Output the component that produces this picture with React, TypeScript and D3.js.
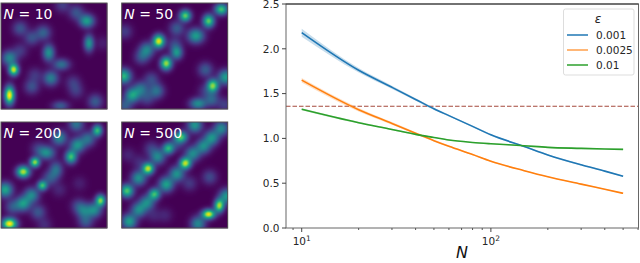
import React, { useMemo } from 'react';
import * as d3 from 'd3';

const sizes = [10, 20, 30, 40, 50, 60, 80, 100, 150, 200, 300, 400, 500];
const blueMean = [2.18, 1.76, 1.57, 1.435, 1.33, 1.254, 1.134, 1.04, 0.91, 0.815, 0.705, 0.635, 0.577];
const orangeMean = [1.65, 1.32, 1.167, 1.058, 0.975, 0.912, 0.82, 0.745, 0.64, 0.572, 0.49, 0.432, 0.387];
const greenMean = [1.325, 1.175, 1.1, 1.045, 1.01, 0.982, 0.955, 0.94, 0.918, 0.9, 0.889, 0.882, 0.878];
const blueSpread = [0.045, 0.025, 0.018, 0.014, 0.012, 0.01, 0.01, 0.01, 0.008, 0.008, 0.008, 0.008, 0.008];
const orangeSpread = [0.025, 0.02, 0.015, 0.012, 0.01, 0.01, 0.008, 0.008, 0.006, 0.006, 0.006, 0.006, 0.006];
const greenSpread = [0.012, 0.01, 0.008, 0.008, 0.006, 0.006, 0.006, 0.006, 0.006, 0.006, 0.006, 0.006, 0.006];
const threshold = 1.358;

const yTicks = [0, 0.5, 1, 1.5, 2, 2.5];
const legendLabels = ['0.001', '0.0025', '0.01'];
const lineColors = ['#1f77b4', '#ff7f0e', '#2ca02c'];

// peaks: [x%, y%, height, sx, sy]
type Peak = number[];
const peaks10: Peak[] = [
  [81, 17, 0.55, 4.5, 4], [71, 9, 0.25], [58, 2, 0.18], [83, 38, 0.52, 3, 5], [96, 38, 0.08],
  [18, 24, 0.25], [29, 33, 0.24], [40, 28, 0.3], [45, 47, 0.5, 3.5, 5], [18, 45, 0.16],
  [8, 52, 0.45], [12, 63, 0.9, 3, 3.5], [8, 87, 1, 3, 5.5], [57, 58, 0.36, 5, 3.5],
  [47, 71, 0.42], [32, 68, 0.15], [29, 79, 0.24], [68, 75, 0.16], [71, 83, 0.16],
  [89, 93, 0.28], [56, 97, 0.28, 5, 3],
];
const peaks50: Peak[] = [
  [60, 12, 0.75, 3.5, 3.5], [82, 17, 0.75, 3.5, 4], [94, 6, 0.7, 4, 3.5], [70, 31, 0.55, 5, 4.5],
  [52, 24, 0.28], [35, 36, 0.95, 3.5, 4], [24, 44, 0.42], [19, 51, 0.26], [52, 47, 0.5, 3.5, 4],
  [50, 39, 0.2], [42, 57, 0.85, 3.5, 4], [3, 27, 0.18], [79, 63, 0.28], [86, 78, 0.8, 3.5, 4],
  [98, 70, 0.55], [2, 69, 0.65], [28, 72, 0.22], [18, 81, 0.36], [10, 87, 0.55], [33, 83, 0.36],
  [24, 90, 0.2], [72, 95, 0.48, 5, 3.5], [85, 91, 0.3], [3, 97, 0.28], [79, 83, 0.15], [97, 96, 0.18],
];
const peaks200: Peak[] = [
  [8, 96, 1, 4.5, 3.5], [4, 64, 0.58], [21, 47, 0.88, 4, 3.5], [32, 38, 0.82, 3, 3], [43, 29, 0.48, 5, 4],
  [55, 15, 0.45], [66, 33, 0.68, 3.5, 4], [72, 22, 0.5], [82, 16, 0.36], [91, 8, 0.66, 3, 3.5],
  [71, 2, 0.38], [52, 45, 0.36, 4, 5], [39, 60, 0.66, 3, 3], [29, 69, 0.45], [21, 77, 0.52], [11, 80, 0.26],
  [46, 53, 0.26], [35, 85, 0.26], [94, 74, 0.78, 3, 3.5], [88, 83, 0.46], [78, 84, 0.34], [73, 79, 0.2],
  [55, 64, 0.1], [74, 58, 0.08], [80, 94, 0.26], [41, 97, 0.12], [35, 25, 0.16],
];
const peaks500: Peak[] = [
  [5, 65, 0.72, 4, 4], [16, 53, 0.5], [25, 44, 0.88, 3.5, 3.5], [34, 33, 0.46], [44, 25, 0.62, 3.5, 3.5],
  [56, 14, 0.68, 4, 3.5], [69, 3, 0.52], [52, 20, 0.2], [7, 94, 0.56], [16, 83, 0.46], [24, 76, 0.46],
  [31, 68, 0.66, 3.5, 3.5], [42, 59, 0.56], [52, 49, 0.5], [60, 39, 0.88, 3.5, 3.5], [67, 30, 0.46],
  [77, 23, 0.46], [85, 15, 0.5], [94, 6, 0.46], [72, 96, 0.46], [82, 87, 0.95, 4, 3], [92, 79, 0.85, 3, 4],
  [99, 70, 0.52], [28, 25, 0.18], [83, 52, 0.22], [64, 58, 0.16], [17, 38, 0.12], [6, 31, 0.1],
  [41, 88, 0.1], [30, 88, 0.1],
];

const panelLabels = ['10', '50', '200', '500'];
const panelPeaks = [peaks10, peaks50, peaks200, peaks500];
const panelOrigins = [[1, 3], [121.7, 3], [1, 122], [121.7, 122]];
const panelSize = 106;
const cellCount = 106;
const widen = 1.06;

const x = d3.scaleLog().domain([8.26, 603]).range([286, 638.5]);
const y = d3.scaleLinear().domain([0, 2.5]).range([228, 4]);
const color = d3.scaleSequential(d3.interpolateViridis).domain([0, 1]);

const Heatmap = ({ peaks, label, origin }: { peaks: Peak[]; label: string; origin: number[] }) => {
  const cells = useMemo(() => {
    const u = d3.scaleLinear().domain([0, cellCount]).range([0, 100]);
    const out: { i: number; j: number; v: number }[] = [];
    for (let j = 0; j < cellCount; j++) {
      for (let i = 0; i < cellCount; i++) {
        const px = u(i + 0.5);
        const py = u(j + 0.5);
        const v = d3.sum(peaks, ([cx, cy, h, sx = 4.5, sy = 4.5]) =>
          h * Math.exp(-((px - cx) ** 2) / (2 * (sx * widen) ** 2) - ((py - cy) ** 2) / (2 * (sy * widen) ** 2)));
        out.push({ i, j, v: Math.min(v, 1) });
      }
    }
    return out;
  }, [peaks]);
  const step = panelSize / cellCount;
  return (
    <g transform={`translate(${origin[0]},${origin[1]})`}>
      {cells.map(c => (
        <rect key={`${c.i}-${c.j}`} x={c.i * step} y={c.j * step} width={step + 0.3} height={step + 0.3} fill={color(c.v)} />
      ))}
      <rect width={panelSize} height={panelSize} fill="none" stroke="#555" strokeWidth={1} />
      <text x={2.5} y={16} fill="#fff" fontSize={14} fontFamily="DejaVu Sans">
        <tspan fontStyle="italic">N</tspan> = {label}
      </text>
    </g>
  );
};

const series = [
  { mean: blueMean, spread: blueSpread },
  { mean: orangeMean, spread: orangeSpread },
  { mean: greenMean, spread: greenSpread },
];

const App = () => {
  const line = d3.line<number>().x((_, i) => x(sizes[i])).y(d => y(d)).curve(d3.curveMonotoneX);
  const minorTicks = [9, 20, 30, 40, 50, 60, 70, 80, 90, 200, 300, 400, 500, 600];
  return (
    <svg width={640} height={263} style={{ position: 'absolute', left: 0, top: 0 }} fontFamily="DejaVu Sans">
      <rect width={640} height={263} fill="#fff" />
      {panelPeaks.map((p, k) => (
        <Heatmap key={panelLabels[k]} peaks={p} label={panelLabels[k]} origin={panelOrigins[k]} />
      ))}

      <line x1={x.range()[0]} x2={x.range()[1]} y1={y(threshold)} y2={y(threshold)} stroke="#a5493d" strokeWidth={1.1} strokeDasharray="4.5 2" />

      {series.map((s, k) => {
        const band = d3.area<number>()
          .x((_, i) => x(sizes[i]))
          .y0((d, i) => y(d - s.spread[i]))
          .y1((d, i) => y(d + s.spread[i]))
          .curve(d3.curveMonotoneX);
        return (
          <g key={legendLabels[k]}>
            <path d={band(s.mean) ?? ''} fill={lineColors[k]} opacity={0.25} />
            <path d={line(s.mean) ?? ''} fill="none" stroke={lineColors[k]} strokeWidth={1.6} />
          </g>
        );
      })}

      {/* frame, the top edge reads darker in the reference */}
      <rect x={286} y={4} width={352.5} height={224} fill="none" stroke="#666" strokeWidth={1} />
      <line x1={286} x2={638.5} y1={4} y2={4} stroke="#333" />

      {yTicks.map(t => (
        <g key={t}>
          <line x1={282} x2={286} y1={y(t)} y2={y(t)} stroke="#444" />
          <text x={279.5} y={y(t) + 3.8} textAnchor="end" fontSize={10.5} fill="#262626">{t.toFixed(1)}</text>
        </g>
      ))}

      {minorTicks.map(t => (
        <line key={t} x1={x(t)} x2={x(t)} y1={228} y2={230} stroke="#555" />
      ))}
      {[10, 100].map((t, i) => (
        <g key={t}>
          <line x1={x(t)} x2={x(t)} y1={228} y2={232} stroke="#444" />
          <text x={x(t)} y={245} textAnchor="middle" fontSize={10.5} fill="#262626">
            10<tspan fontSize={7.5} dy={-4}>{i + 1}</tspan>
          </text>
        </g>
      ))}
      <text x={462} y={258} textAnchor="middle" fontSize={16} fontStyle="italic" fill="#111">N</text>

      {/* legend */}
      <rect x={563.5} y={9} width={70.5} height={66} rx={2} fill="#fff" stroke="#ddd" strokeWidth={1} />
      <text x={598} y={23} textAnchor="middle" fontSize={12} fontStyle="italic" fill="#262626">ε</text>
      {legendLabels.map((l, i) => (
        <g key={l}>
          <line x1={567} x2={588} y1={35 + i * 15} y2={35 + i * 15} stroke={lineColors[i]} strokeWidth={1.5} opacity={i === 1 ? 0.75 : 1} />
          <text x={596} y={39 + i * 15} fontSize={10.5} fill="#262626">{l}</text>
        </g>
      ))}
    </svg>
  );
};

export default App;
